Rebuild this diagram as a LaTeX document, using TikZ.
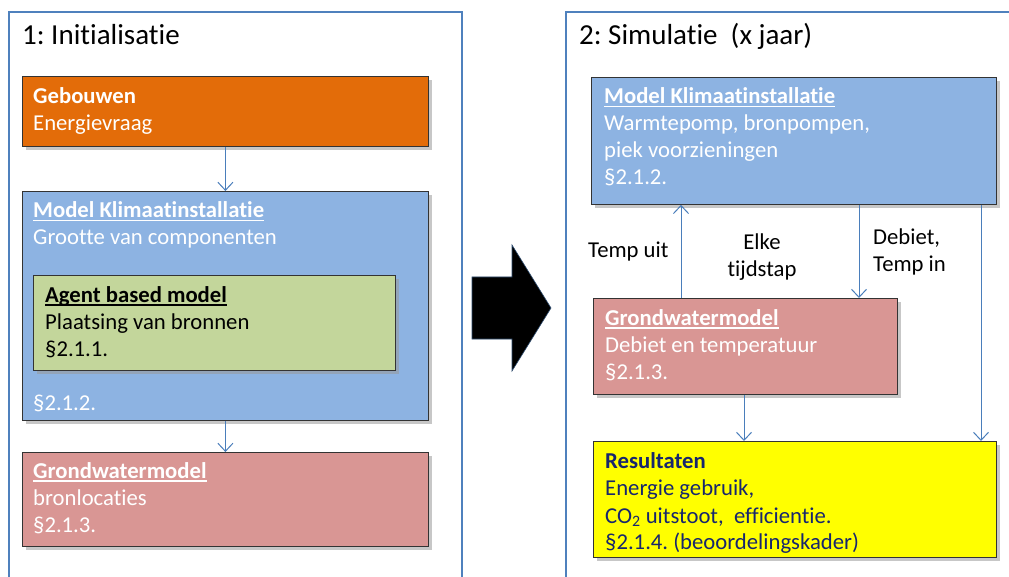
\documentclass[tikz,border=0pt]{standalone}
\usepackage{fontspec}
\setmainfont{Carlito}[Ligatures=NoCommon]
\frenchspacing
\newsavebox{\myulbox}
\newcommand{\myul}[1]{\sbox{\myulbox}{#1}\rlap{\rule[-3.5pt]{\wd\myulbox}{1.6pt}}\usebox{\myulbox}}
\usetikzlibrary{shadows,arrows.meta}
\definecolor{frameblue}{RGB}{79,129,189}
\definecolor{arrowblue}{RGB}{74,126,187}
\definecolor{orangebox}{RGB}{227,108,9}
\definecolor{bluebox}{RGB}{141,179,226}
\definecolor{greenbox}{RGB}{195,214,155}
\definecolor{pinkbox}{RGB}{217,150,148}
\definecolor{yellowbox}{RGB}{255,255,0}
\definecolor{navytext}{RGB}{23,38,110}
\tikzset{
  box/.style={draw=black!80, line width=0.8pt, anchor=north west, inner sep=0pt,
    drop shadow={shadow xshift=4pt, shadow yshift=-4pt, fill=black!40, opacity=0.55}},
  txt/.style={anchor=base west, inner sep=0pt, font=\fontsize{22.7}{27}\selectfont},
  ttl/.style={anchor=base west, inner sep=0pt, font=\fontsize{29}{34}\selectfont},
  lbl/.style={anchor=base west, inner sep=0pt, font=\fontsize{22.7}{27}\selectfont},
  frame/.style={draw=frameblue, line width=1.2pt},
  conn/.style={draw=arrowblue, line width=1pt, -{Straight Barb[length=8pt,width=15pt,line width=1pt]}}
}
\begin{document}
\begin{tikzpicture}[x=1pt,y=-1pt]
\useasboundingbox (0,0) rectangle (1009,577);
\clip (0,0) rectangle (1009,577);
\fill[white] (0,0) rectangle (1009,577);
% frames
\draw[frame] (9,12) rectangle (462,600);
\draw[frame] (566,12) rectangle (1030,600);
\node[ttl] (t1) at (22,45) {1: Initialisatie};
\node[ttl] (t2) at (579,45) {2: Simulatie\ \ (x jaar)};
% left boxes
\node[box, fill=orangebox, minimum width=406pt, minimum height=70pt] (geb) at (22,76) {};
\node[txt, text=white] (gebT) at (33,104) {\textbf{Gebouwen}};
\node[txt, text=white] (gebS) at (33,131) {Energievraag};
\node[box, fill=bluebox, minimum width=406pt, minimum height=229pt] (mkL) at (22,191) {};
\node[txt, text=white] (mkLT) at (33,218) {\myul{\textbf{Model Klimaatinstallatie}}};
\node[txt, text=white] (mkLS) at (33,245) {Grootte van componenten};
\node[txt, text=white] (mkLP) at (33,410) {§2.1.2.};
\node[box, fill=greenbox, minimum width=362pt, minimum height=95pt] (abm) at (33,275) {};
\node[txt, text=black] (abmT) at (45,302) {\myul{\textbf{Agent based model}}};
\node[txt, text=black] (abmS) at (45,329) {Plaatsing van bronnen};
\node[txt, text=black] (abmP) at (45,356) {§2.1.1.};
\node[box, fill=pinkbox, minimum width=406pt, minimum height=94pt] (gwL) at (22,452) {};
\node[txt, text=white] (gwLT) at (33,478) {\myul{\textbf{Grondwatermodel}}};
\node[txt, text=white] (gwLS) at (33,505) {bronlocaties};
\node[txt, text=white] (gwLP) at (33,532) {§2.1.3.};
\draw[conn] (geb.south) -- (mkL.north);
\draw[conn] (mkL.south) -- (gwL.north);
% big arrow
\fill[black, draw=frameblue!60!black, line width=0.6pt]
  (472,277) -- (512,277) -- (512,245) -- (551,308) -- (512,371) -- (512,339) -- (472,339) -- cycle;
% right boxes
\node[box, fill=bluebox, minimum width=405pt, minimum height=127pt] (mkR) at (591,77) {};
\node[txt, text=white] (mkRT) at (604,104) {\myul{\textbf{Model Klimaatinstallatie}}};
\node[txt, text=white] (mkRS1) at (604,131) {Warmtepomp, bronpompen,};
\node[txt, text=white] (mkRS2) at (604,158) {piek voorzieningen};
\node[txt, text=white] (mkRP) at (604,185) {§2.1.2.};
\node[box, fill=pinkbox, minimum width=304pt, minimum height=96pt] (gwR) at (593,298) {};
\node[txt, text=white] (gwRT) at (605,325) {\myul{\textbf{Grondwatermodel}}};
\node[txt, text=white] (gwRS) at (605,352) {Debiet en temperatuur};
\node[txt, text=white] (gwRP) at (605,379) {§2.1.3.};
\node[box, fill=yellowbox, minimum width=403pt, minimum height=116pt] (res) at (593,441) {};
\node[txt, text=navytext] (resT) at (605,468) {\textbf{Resultaten}};
\node[txt, text=navytext] (resS1) at (605,495) {Energie gebruik,};
\node[txt, text=navytext] (resS2) at (605,523) {CO\textsubscript{2} uitstoot,\ \ efficientie.};
\node[txt, text=navytext] (resP) at (605,549) {§2.1.4. (beoordelingskader)};
% labels
\node[lbl] (l1) at (588,258) {Temp uit};
\node[lbl, anchor=base] (l2) at (762,250) {Elke};
\node[lbl, anchor=base] (l3) at (762,277) {tijdstap};
\node[lbl] (l4) at (873,245) {Debiet,};
\node[lbl] (l5) at (873,272) {Temp in};
% connectors
\coordinate (xa) at (681,0);
\coordinate (xb) at (859,0);
\coordinate (xc) at (744,0);
\coordinate (xd) at (981,0);
\draw[conn] (gwR.north -| xa) -- (mkR.south -| xa);
\draw[conn] (mkR.south -| xb) -- (gwR.north -| xb);
\draw[conn] (gwR.south -| xc) -- (res.north -| xc);
\draw[conn] (mkR.south -| xd) -- (res.north -| xd);
\end{tikzpicture}
\end{document}
